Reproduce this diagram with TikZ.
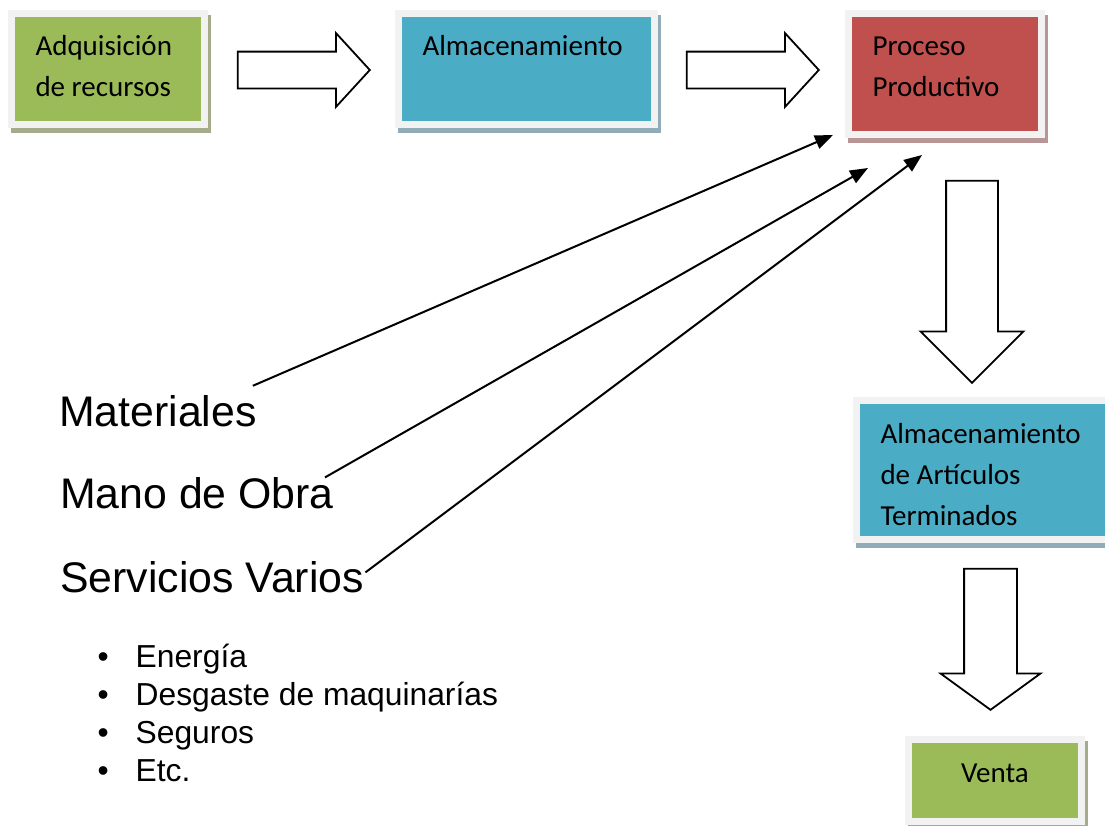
\documentclass[tikz,border=0pt]{standalone}
\usepackage{fontspec}
\setmainfont{Carlito}
\newfontfamily\arialfont{Liberation Sans}
\usetikzlibrary{shapes,arrows.meta,positioning,calc,backgrounds}

\definecolor{frame}{RGB}{242,242,242}
\definecolor{stgreen}{RGB}{155,187,89}
\definecolor{stblue}{RGB}{75,172,198}
\definecolor{stred}{RGB}{192,80,77}
\definecolor{shgreen}{RGB}{165,172,140}
\definecolor{shblue}{RGB}{145,172,182}
\definecolor{shred}{RGB}{185,150,150}

\newcommand{\boxfont}{\fontsize{29}{41}\selectfont}
\newcommand{\costfont}{\arialfont\fontsize{42.8}{50}\selectfont}
\newcommand{\itemfont}{\arialfont\fontsize{31.8}{38}\selectfont}

\begin{document}
\begin{tikzpicture}[
    x=1pt, y=-1pt,
    stage/.style={rectangle, draw=frame, line width=7pt, fill=#1, anchor=north west, inner xsep=24pt, inner ysep=0pt, align=flush left, font=\boxfont},
    bigarrow/.style={single arrow, draw, line width=1.8pt, fill=white, anchor=tail, minimum height=#1},
    cost/.style={inner sep=0pt, anchor=base west, font=\costfont},
    item/.style={inner sep=0pt, anchor=base west, font=\itemfont},
    feed/.style={-{Triangle[length=18pt, width=14pt]}, line width=2pt}
]
\useasboundingbox (0,0) rectangle (1105,825);

% Stages
\node[stage=stgreen, text width=145pt, text height=41.5pt, text depth=69.5pt] (adq) at (8,10) {Adquisición\\de recursos};
\node[stage=stblue, text width=208pt, text height=41.5pt, text depth=69.5pt] (alm) at (395,10) {Almacenamiento};
\node[stage=stred, text width=145pt, text height=41.5pt, text depth=79.5pt] (proc) at (845,10) {Proceso\\Productivo};
\node[stage=stblue, text width=207pt, text height=42.5pt, text depth=96.5pt] (stock) at (853,397) {Almacenamiento\\de Artículos\\Terminados};
\node[stage=stgreen, text width=125pt, text height=42.5pt, text depth=39pt, align=center] (venta) at (905,736) {Venta};

% Shadows
\begin{scope}[on background layer]
\foreach \n/\c in {adq/shgreen, alm/shblue, proc/shred, stock/shblue, venta/shgreen}
  \fill[\c] ($(\n.south west)+(3,5)$) rectangle ($(\n.north east)+(3,5)$);
\end{scope}

% Block arrows
\node[bigarrow=132pt, inner sep=17.5pt, single arrow head extend=18.5pt, single arrow tip angle=95] (a1) at (236.9,70) {};
\node[bigarrow=132pt, inner sep=17.5pt, single arrow head extend=18.5pt, single arrow tip angle=95] (a2) at (685.9,70) {};
\node[bigarrow=202pt, rotate=-90, inner sep=25pt, single arrow head extend=25.5pt] (d1) at (972,179.9) {};
\node[bigarrow=141pt, rotate=-90, inner sep=25.5pt, single arrow head extend=23.5pt, single arrow tip angle=108] (d2) at (990.5,567.9) {};

% Costs
\node[cost] (mat) at (59,426) {Materiales};
\node[cost] (mano) at (60,508) {Mano de Obra};
\node[cost] (serv) at (60,592) {Servicios Varios};

\foreach \t [count=\i] in {Energía, Desgaste de maquinarías, Seguros, Etc.}
  \node[item] (it\i) at (97.5,{667+38.3*(\i-1)}) {\makebox[38pt][l]{\textbullet}\t};

% Feeds into production
\draw[feed] ($(mat.north east)+(-4,-9)$) -- ($(proc.south west)+(-12,-3)$);
\draw[feed] ($(mano.north east)+(-9,0.6)$) -- ($(proc.south west)+(23,30)$);
\draw[feed] ($(serv.north east)+(1.4,11.6)$) -- ($(proc.south west)+(77,17)$);

\end{tikzpicture}
\end{document}
